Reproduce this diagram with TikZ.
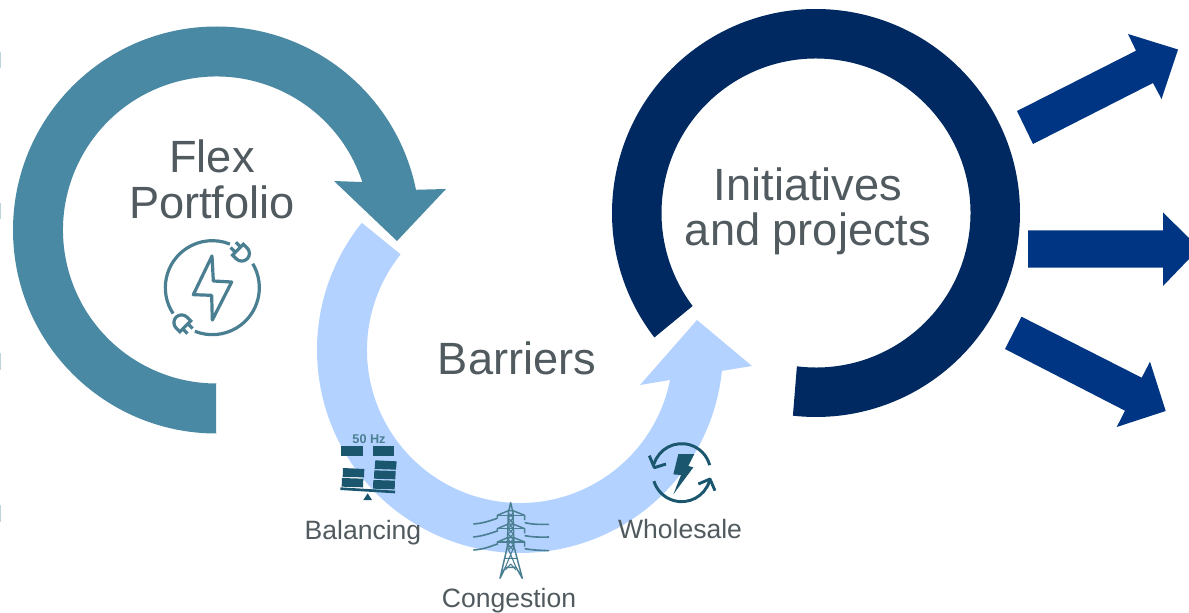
\documentclass[tikz,border=0pt]{standalone}
\usepackage{fontspec}
\setmainfont{Liberation Sans}
\usetikzlibrary{calc}
\definecolor{tealring}{HTML}{4A89A3}
\definecolor{lightring}{HTML}{B4D2FF}
\definecolor{navyring}{HTML}{002861}
\definecolor{navyarrow}{HTML}{003584}
\definecolor{icondark}{HTML}{1A566D}
\definecolor{iconline}{HTML}{4A7F92}
\definecolor{labelgrey}{HTML}{505A5F}
\definecolor{tickcol}{HTML}{BFD3DC}
\tikzset{
  biglabel/.style={text=labelgrey,anchor=base,inner sep=0pt,font=\fontsize{33.9}{40}\selectfont},
  smalllabel/.style={text=labelgrey,anchor=base,inner sep=0pt,font=\fontsize{19.9}{24}\selectfont},
  zoomframe/.style={scale=1/3},
  plugline/.style={draw=iconline,line width=2.4pt,fill=none},
  towerline/.style={draw=iconline,line width=0.8pt,line join=round},
  wireline/.style={draw=iconline,line width=1.2pt},
  swapline/.style={draw=icondark,line width=2.2pt,fill=none}
}
\begin{document}
\begin{tikzpicture}[x=0.75pt,y=0.75pt,yscale=-1]
\useasboundingbox (0,0) rectangle (1189,613);
\fill[white] (0,0) rectangle (1189,613);
% edge ticks
\foreach \ya/\yb in {52/68,203/219,353/370,505/522}
  \fill[tickcol] (0,\ya) rectangle (1,\yb);
\coordinate (tc) at (216.5,230);
\coordinate (lc) at (520,350);
\coordinate (nc) at (816,213);
% light ring
\fill[lightring] ($(lc)+(218.8:203)$) arc[start angle=218.8,end angle=5.9,radius=203]
  -- (752,366) -- (697,320) -- (640,385) -- ($(lc)+(11.3:153)$)
  arc[start angle=11.3,end angle=218.7,radius=153] -- cycle;
% teal ring
\fill[tealring] (216,433.5) -- ($(tc)+(90:203.5)$) arc[start angle=90,end angle=348.6,radius=203.5]
  -- (446,189) -- (397,241) -- (334,181) -- ($(tc)+(341.8:153.5)$)
  arc[start angle=341.8,end angle=90,radius=153.5] -- (216,383.5) -- cycle;
% navy ring
\fill[navyring] ($(nc)+(142.4:204)$) arc[start angle=142.4,end angle=456.5,radius=204]
  -- ($(nc)+(457.1:154.5)$) arc[start angle=457.1,end angle=143,radius=154.5] -- cycle;
% arrows
\fill[navyarrow] (1017,111) -- (1136,50.7) -- (1128,34) -- (1178,49.5) -- (1161.5,99) -- (1153,83) -- (1033,144) -- cycle;
\fill[navyarrow] (1028,230.5) -- (1163,230.5) -- (1163,212.5) -- (1189,238) -- (1189,259) -- (1163,286) -- (1163,267.5) -- (1028,267.5) -- cycle;
\fill[navyarrow] (1005,349) -- (1021.5,316.7) -- (1141.7,377.7) -- (1150,361.7) -- (1165.7,411) -- (1116.7,427) -- (1125,410.7) -- cycle;
% labels
\node[biglabel] (flex) at (212,173) {Flex};
\node[biglabel] (portfolio) at (212,219) {Portfolio};
\node[biglabel] (initiatives) at (808,200) {Initiatives};
\node[biglabel] (andprojects) at (808,246) {and projects};
\node[biglabel] (barriers) at (517,374) {Barriers};
\node[smalllabel] (balancing) at (363,539) {Balancing};
\node[smalllabel] (congestion) at (509,607) {Congestion};
\node[smalllabel] (wholesale) at (680,538) {Wholesale};
% plug icon
\begin{scope}[shift={(140,220)},zoomframe]
  \draw[plugline,line join=round] (216,108) -- (160,224) -- (215,226) -- (217,300) -- (275,186) -- (220,183) -- cycle;
  \draw[plugline] ($(217,203)+(146.6:141)$) arc[start angle=146.6,end angle=292,radius=141];
  \draw[plugline] ($(217,203)+(-30.7:141)$) arc[start angle=-30.7,end angle=111.8,radius=141];
  \begin{scope}[shift={(294,89)},rotate=45]
    \draw[plugline] (0,-23) -- (16,-23) arc[start angle=-90,end angle=90,radius=23] -- (0,23) -- cycle;
    \draw[plugline] (0,-11) -- (-20,-11) (0,11) -- (-20,11);
  \end{scope}
  \begin{scope}[shift={(136,319)},rotate=225]
    \draw[plugline] (0,-23) -- (16,-23) arc[start angle=-90,end angle=90,radius=23] -- (0,23) -- cycle;
    \draw[plugline] (0,-11) -- (-20,-11) (0,11) -- (-20,11);
  \end{scope}
\end{scope}
% balancing icon
\begin{scope}[shift={(290,420)},zoomframe]
  \fill[icondark] (153,78) rectangle (218,107);
  \fill[icondark] (248,78) rectangle (312,107);
  \fill[icondark] (159,144) -- (223,147) -- (222,172) -- (158,171) -- cycle;
  \fill[icondark] (156,174) -- (220,176) -- (219,202) -- (155,200) -- cycle;
  \fill[icondark] (256,121) -- (320,124) -- (318,149) -- (254,147) -- cycle;
  \fill[icondark] (253,151) -- (317,153) -- (316,178) -- (252,176) -- cycle;
  \fill[icondark] (250,180) -- (315,182) -- (314,208) -- (249,206) -- cycle;
  \fill[icondark] (151,202) -- (315,212) -- (315,220) -- (151,210) -- cycle;
  \fill[icondark] (233,220) -- (220,240) -- (246,240) -- cycle;
\end{scope}
\node[text=iconline,anchor=base,inner sep=0pt,font=\fontsize{9.5}{11}\selectfont\bfseries] (hz) at (369,443) {50 Hz};
% tower icon
\begin{scope}[shift={(440,490)},zoomframe]
  \draw[wireline] (100,102) .. controls (130,100) and (150,92) .. (172,85);
  \draw[wireline] (100,141) .. controls (130,138) and (150,130) .. (172,123);
  \draw[wireline] (100,180) .. controls (130,178) and (150,170) .. (172,162);
  \draw[wireline] (254,98) .. controls (275,103) and (300,104) .. (327,103);
  \draw[wireline] (254,137) .. controls (275,141) and (300,142) .. (327,141);
  \draw[wireline] (254,176) .. controls (275,180) and (300,181) .. (327,182);
  \draw[towerline,line width=1.1pt] (212,38) -- (205,68) -- (202,170) -- (180,265) -- (196,232) -- (228,232) -- (247,265) -- (222,170) -- (219,68) -- cycle;
  \foreach \ya in {68,108,148}{
    \draw[towerline,line width=1.1pt] (172,\ya+17) -- (172,\ya+8) -- (205,\ya-6) -- (219,\ya-6) -- (254,\ya+8) -- (254,\ya+22);
    \draw[towerline] (172,\ya+8) -- (252,\ya+8);
  }
  \foreach \ya in {68,84,100,116,132,148,164}{
    \draw[towerline] (204,\ya) -- (220,\ya+16) (220,\ya) -- (204,\ya+16);
  }
  \draw[towerline] (202,170) -- (222,170) -- (196,232) (202,170) -- (228,232) (192,205) -- (232,205);
  \draw[towerline] (212,222) -- (196,240) (212,222) -- (228,240);
\end{scope}
% wholesale icon
\begin{scope}[shift={(610,430)},zoomframe]
  \fill[icondark] (205,72) -- (253,72) -- (235,108) -- (250,112) -- (190,193) -- (213,135) -- (190,133) -- cycle;
  \draw[swapline] ($(215,128)+(197:87)$) arc[start angle=197,end angle=345,radius=87];
  \draw[swapline] ($(215,128)+(17:87)$) arc[start angle=17,end angle=163,radius=87];
  \draw[swapline,line join=round] (118,77) -- (133,113) -- (168,102);
  \draw[swapline,line join=round] (265,162) -- (300,147) -- (315,182);
\end{scope}
\end{tikzpicture}
\end{document}
